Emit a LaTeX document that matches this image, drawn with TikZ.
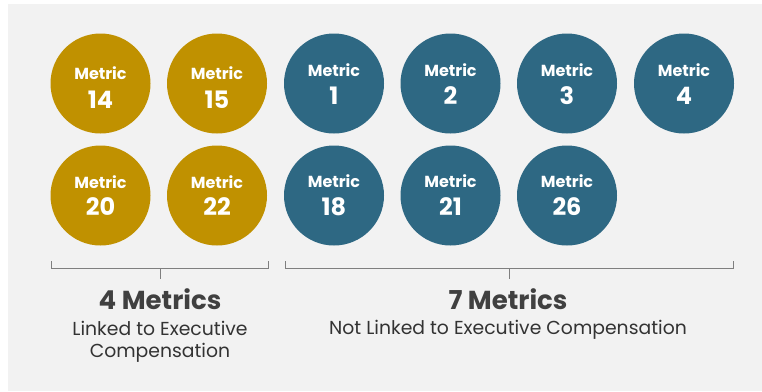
\documentclass[tikz,border=0pt]{standalone}
\usepackage{fontspec}
\setmainfont{Poppins}
\definecolor{panel}{HTML}{F2F2F2}
\definecolor{goldfill}{HTML}{C09100}
\definecolor{tealfill}{HTML}{2E6883}
\definecolor{headtext}{HTML}{404040}
\definecolor{bodytext}{HTML}{333333}
\definecolor{bracecol}{HTML}{7F7F7F}

\tikzset{
  disc/.style={circle, fill=#1, draw=none, minimum size=100pt, inner sep=0pt},
  disclabel/.style={text=white, font=\fontsize{16}{16}\selectfont\bfseries, anchor=base, inner sep=0pt},
  discnum/.style={text=white, font=\fontsize{24}{24}\selectfont\bfseries, anchor=base, inner sep=0pt},
  headline/.style={text=headtext, font=\fontsize{26}{26}\selectfont\bfseries, anchor=base, inner sep=0pt},
  bodyline/.style={text=bodytext, font=\fontsize{18.8}{18.8}\selectfont, anchor=base, inner sep=0pt},
  brace/.style={draw=bracecol, line width=0.9pt}
}

% \metricdisc{name}{x}{y}{colour}{number}{label baseline}{number baseline}
\newcommand\metricdisc[7]{%
  \node[disc=#4] (#1) at (#2,#3) {};
  \node[disclabel] (#1-lbl) at (#2,#6) {Metric};
  \node[discnum] (#1-num) at (#2,#7) {#5};
}

\begin{document}
\begin{tikzpicture}[x=1pt,y=-1pt]
\useasboundingbox (0,0) rectangle (762,391);
\fill[panel] (8,4) rectangle (762,391);

% linked metrics
\metricdisc{m14}{100.5}{83.5}{goldfill}{14}{79}{108}
\metricdisc{m15}{217}{83.5}{goldfill}{15}{79}{108}
\metricdisc{m20}{100.5}{195.5}{goldfill}{20}{188}{215}
\metricdisc{m22}{217}{195.5}{goldfill}{22}{188}{215}

% metrics not linked
\metricdisc{m1}{334}{83.5}{tealfill}{1}{76}{104}
\metricdisc{m2}{450.5}{83.5}{tealfill}{2}{76}{104}
\metricdisc{m3}{567}{83.5}{tealfill}{3}{76}{104}
\metricdisc{m4}{684}{83.5}{tealfill}{4}{76}{104}
\metricdisc{m18}{334}{195.5}{tealfill}{18}{187.5}{215}
\metricdisc{m21}{450.5}{195.5}{tealfill}{21}{187.5}{215}
\metricdisc{m26}{567}{195.5}{tealfill}{26}{187.5}{215}

% group braces
\coordinate (bl0) at (51,261);
\coordinate (bl1) at (268,261);
\coordinate (blt) at (160,279);
\draw[brace] (bl0) -- (51,268) -- (268,268) -- (bl1);
\draw[brace] (160,268) -- (blt);

\coordinate (br0) at (285,261);
\coordinate (br1) at (733,261);
\coordinate (brt) at (509,279);
\draw[brace] (br0) -- (285,268) -- (733,268) -- (br1);
\draw[brace] (509,268) -- (brt);

% captions
\node[headline] (capL) at (160,309) {4 Metrics};
\node[bodyline] (capL1) at (160,335) {Linked to Executive};
\node[bodyline] (capL2) at (160,357) {Compensation};

\node[headline] (capR) at (508,309) {7 Metrics};
\node[bodyline] (capR1) at (508,334) {Not Linked to Executive Compensation};
\end{tikzpicture}
\end{document}
